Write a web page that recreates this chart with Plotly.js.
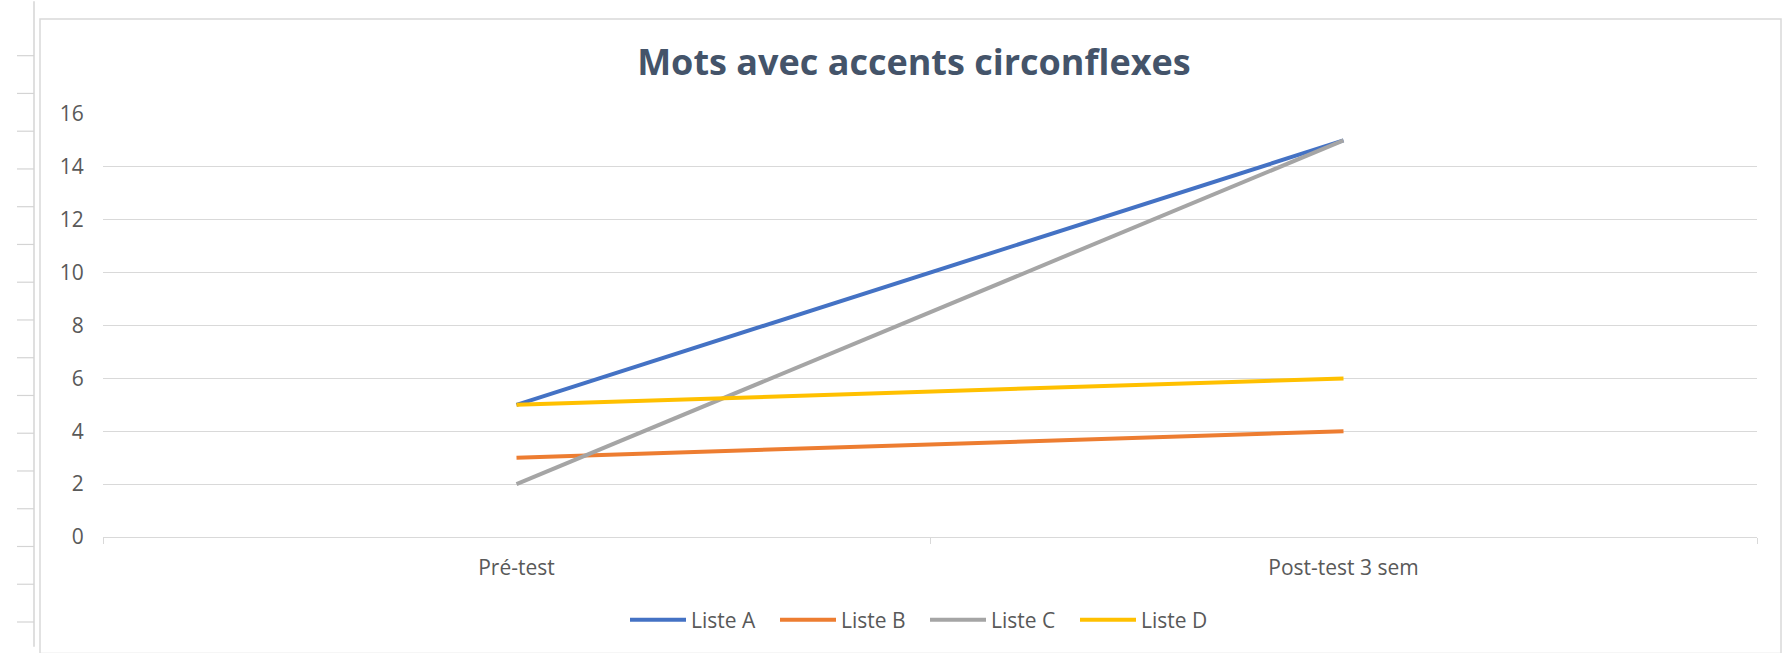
<!DOCTYPE html>
<html>
<head>
<meta charset="utf-8">
<script src="https://cdn.plot.ly/plotly-3.0.1.min.js"></script>
<style>
  html, body { margin: 0; padding: 0; background: #ffffff; }
  #chart { width: 1785px; height: 653px; }
</style>
</head>
<body>
<div id="chart"></div>
<script>
// ---- data ----
const categories = ["Pré-test", "Post-test 3 sem"];
const seriesNames = ["Liste A", "Liste B", "Liste C", "Liste D"];
const listeA = [5, 15];
const listeB = [3, 4];
const listeC = [2, 15];
const listeD = [5, 6];
const yTicks = [0, 2, 4, 6, 8, 10, 12, 14, 16];

// ---- styling ----
const colors = ["#4472C4", "#ED7D31", "#A5A5A5", "#FFC000"];
const W = 1785, H = 653;
const L = 103, R = 1757, T = 114, B = 542;
const font = "'Open Sans', 'Noto Sans', sans-serif";

const seriesValues = [listeA, listeB, listeC, listeD];
const traces = seriesValues.map((vals, i) => ({
  type: "scatter",
  mode: "lines",
  name: seriesNames[i],
  x: categories,
  y: vals,
  line: { color: colors[i], width: 4 },
  hoverinfo: "x+y+name"
}));

// helpers for decoration shapes (pixel -> paper)
const px = x => (x - L) / (R - L);
const py = y => (B - y) / (B - T);

const shapes = [];
// chart border (Excel chart frame)
shapes.push({ type: "rect", xref: "paper", yref: "paper",
  x0: px(40), x1: px(1781), y0: py(18), y1: py(660),
  line: { color: "#d9d9d9", width: 1.5 }, fillcolor: "rgba(0,0,0,0)", layer: "below" });
// spreadsheet column line at left
shapes.push({ type: "line", xref: "paper", yref: "paper",
  x0: px(34), x1: px(34), y0: py(0), y1: py(653),
  line: { color: "#d4d4d4", width: 1.5 }, layer: "below" });
// spreadsheet row lines at left
for (let y = 55; y < H; y += 38.2) {
  shapes.push({ type: "line", xref: "paper", yref: "paper",
    x0: px(17), x1: px(34), y0: py(y), y1: py(y),
    line: { color: "#d4d4d4", width: 1.2 }, layer: "below" });
}

const layout = {
  width: W, height: H,
  margin: { l: L, r: W - R, t: T, b: H - B, pad: 0 },
  paper_bgcolor: "#ffffff",
  plot_bgcolor: "#ffffff",
  font: { family: font, color: "#595959", size: 21 },
  title: {
    text: "<b>Mots avec accents circonflexes</b>",
    x: 0.512, xanchor: "center",
    y: 1 - 62 / H, yanchor: "middle",
    font: { family: font, size: 36, color: "#44546A" }
  },
  xaxis: {
    type: "category",
    range: [-0.5, 1.5],
    showgrid: false,
    zeroline: false,
    showline: true,
    linecolor: "#d9d9d9",
    linewidth: 1.2,
    ticks: "outside",
    tickson: "boundaries",
    ticklen: 6,
    tickcolor: "#d9d9d9",
    ticklabelstandoff: 12,
    tickfont: { family: font, size: 21, color: "#595959" },
    fixedrange: true
  },
  yaxis: {
    range: [0, 16],
    tickvals: yTicks,
    ticktext: yTicks.map(String),
    showgrid: true,
    gridcolor: "#d9d9d9",
    gridwidth: 1,
    zeroline: false,
    showline: false,
    ticks: "outside",
    ticklen: 14,
    tickcolor: "rgba(0,0,0,0)",
    tickfont: { family: font, size: 21, color: "#595959" },
    fixedrange: true
  },
  showlegend: true,
  legend: {
    orientation: "h",
    x: px(625), xanchor: "left",
    y: py(626), yanchor: "middle",
    font: { family: font, size: 21, color: "#595959" },
    itemwidth: 56,
    entrywidth: 79,
    entrywidthmode: "pixels",
    tracegroupgap: 0
  },
  shapes: shapes
};

Plotly.newPlot("chart", traces, layout, { displayModeBar: false, staticPlot: false });
</script>
</body>
</html>
